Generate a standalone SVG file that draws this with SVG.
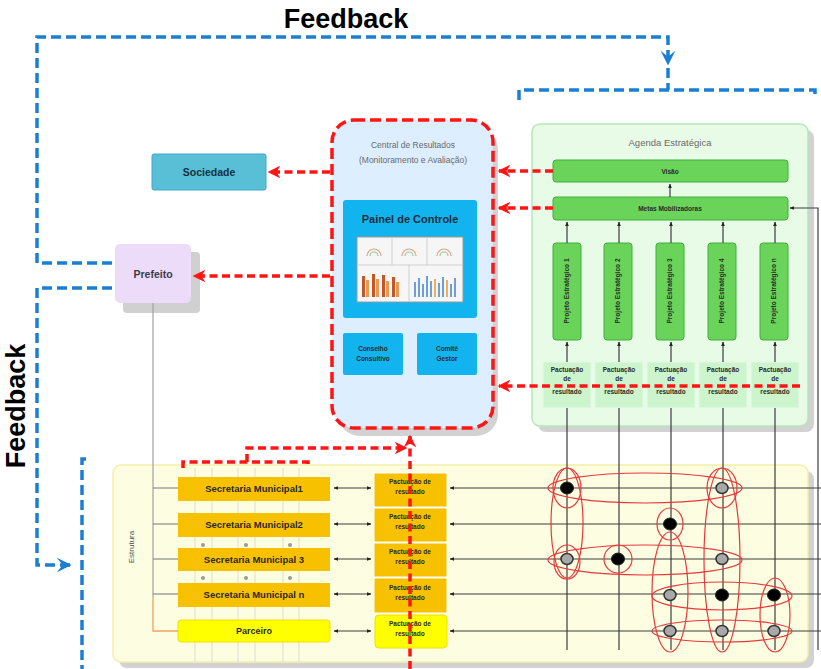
<svg xmlns="http://www.w3.org/2000/svg" width="821" height="669" viewBox="0 0 821 669">
  <style>
    text { font-family: "Liberation Sans", Arial, sans-serif; }
    .big { font-size: 27px; font-weight: bold; fill: #000; }
    .lbl { font-weight: bold; fill: #2a2a2a; text-anchor: middle; }
    .thin { fill: #6a6a6a; text-anchor: middle; font-size: 8.5px; }
    .blue { fill: none; stroke: #1a7fd3; stroke-width: 3.5; stroke-dasharray: 10 5; }
    .red { fill: none; stroke: #ff1414; stroke-width: 3.5; stroke-dasharray: 8 4.5; }
    .grid { stroke: #3c3c3c; stroke-width: 1.2; fill: none; }
    .ell { fill: none; stroke: #e8393a; stroke-width: 1.2; }
    .dot-b { fill: #000; stroke: #222; stroke-width: 1; }
    .dot-g { fill: #a8a8a8; stroke: #333; stroke-width: 1.5; }
    .sec { fill: #f8c100; }
    .pac { fill: #f8c100; stroke: #fff; stroke-width: 1; }
    .prj { fill: #6ad45a; stroke: #3fae3a; stroke-width: 1; }
    .apac { fill: #cdf5cd; stroke: #e6fbe6; stroke-width: 1; }
    .faint { stroke: #dcdcd0; stroke-width: 1; }
  </style>
  <defs>
    <marker id="redHead" viewBox="0 0 10 10" refX="9" refY="5" markerWidth="3.6" markerHeight="3.6" orient="auto">
      <path d="M0,0 L10,5 L0,10 L3,5 z" fill="#ff1414"/>
    </marker>
    <marker id="blueHead" viewBox="0 0 10 10" refX="9" refY="5" markerWidth="4.2" markerHeight="4.2" orient="auto">
      <path d="M0,0 L10,5 L0,10 L4,5 z" fill="#1a7fd3"/>
    </marker>
    <marker id="blk" viewBox="0 0 10 10" refX="9" refY="5" markerWidth="4" markerHeight="4" orient="auto">
      <path d="M0,1 L10,5 L0,9 z" fill="#222"/>
    </marker>
    <marker id="blkStart" viewBox="0 0 10 10" refX="1" refY="5" markerWidth="4" markerHeight="4" orient="auto">
      <path d="M10,1 L0,5 L10,9 z" fill="#222"/>
    </marker>
  </defs>

  <rect width="821" height="669" fill="#fff"/>

  <!-- Feedback titles -->
  <text class="big" x="346" y="28" text-anchor="middle">Feedback</text>
  <text class="big" x="25" y="406" text-anchor="middle" transform="rotate(-90 25 406)">Feedback</text>

  <!-- Structure area (background) -->
  <g id="estrutura">
    <rect x="119" y="471" width="695" height="197" rx="8" fill="#d2d2d2"/>
    <rect x="113" y="465" width="695" height="197" rx="8" fill="#fdfde2" stroke="#f4f0a8" stroke-width="1.5"/>
    <text class="thin" x="134" y="547" transform="rotate(-90 134 547)" style="font-size:8px;fill:#555">Estrutura</text>
    <!-- light columns behind the secretariats -->
    <g class="faint">
      <line x1="195" y1="468" x2="195" y2="662"/>
      <line x1="212" y1="468" x2="212" y2="662"/>
      <line x1="238" y1="468" x2="238" y2="662"/>
      <line x1="255" y1="468" x2="255" y2="662"/>
      <line x1="283" y1="468" x2="283" y2="662"/>
      <line x1="299" y1="468" x2="299" y2="662"/>
    </g>
    <g fill="#9a9a9a">
      <circle cx="203" cy="545" r="2"/><circle cx="246" cy="545" r="2"/><circle cx="290" cy="545" r="2"/>
      <circle cx="203" cy="578" r="2"/><circle cx="246" cy="578" r="2"/><circle cx="290" cy="578" r="2"/>
    </g>
  </g>

  <!-- Agenda Estratégica container -->
  <g id="agenda">
    <rect x="538" y="130" width="276" height="302" rx="8" fill="#d2d2d2"/>
    <rect x="532" y="124" width="276" height="302" rx="8" fill="#e7fbe7" stroke="#b6e8b6" stroke-width="1.5"/>
    <text class="thin" x="670" y="146" style="font-size:9.5px">Agenda Estratégica</text>
  </g>

  <!-- Central de Resultados container -->
  <g id="central">
    <rect x="338" y="128" width="160" height="308" rx="22" fill="#d2d2d2"/>
    <rect x="332" y="120" width="161" height="308" rx="22" fill="#dceeff"/>
    <rect x="332" y="120" width="161" height="308" rx="22" class="red" style="stroke-dasharray:11 5"/>
    <text class="thin" x="413" y="148">Central de Resultados</text>
    <text class="thin" x="413" y="163">(Monitoramento e Avaliação)</text>
  </g>

  <g id="painel">
    <rect x="343" y="200" width="134" height="118" rx="3" fill="#12b4ef"/>
    <text class="lbl" x="410" y="223" style="font-size:11px;fill:#1d2b3a">Painel de Controle</text>
    <!-- dashboard picture -->
    <rect x="357" y="237" width="106" height="65" fill="#f6f6f6" stroke="#9a9a9a" stroke-width="1"/>
    <g stroke="#c8c8c8" stroke-width="0.8">
      <line x1="357" y1="265" x2="463" y2="265"/>
      <line x1="392" y1="237" x2="392" y2="265"/>
      <line x1="427" y1="237" x2="427" y2="265"/>
      <line x1="409" y1="265" x2="409" y2="302"/>
    </g>
    <g fill="none" stroke-width="1.2">
      <path d="M367,256 a7,7 0 0 1 14,0" stroke="#e8a080"/>
      <path d="M402,256 a7,7 0 0 1 14,0" stroke="#e8a080"/>
      <path d="M437,256 a7,7 0 0 1 14,0" stroke="#e8a080"/>
      <path d="M370,256 a4,4 0 0 1 8,0" stroke="#9bc89b"/>
      <path d="M405,256 a4,4 0 0 1 8,0" stroke="#9bc89b"/>
      <path d="M440,256 a4,4 0 0 1 8,0" stroke="#9bc89b"/>
    </g>
    <g fill="#c8552a">
      <rect x="362" y="276" width="3" height="21"/><rect x="366" y="280" width="3" height="17" fill="#e89a50"/>
      <rect x="372" y="274" width="3" height="23"/><rect x="376" y="279" width="3" height="18" fill="#e89a50"/>
      <rect x="382" y="275" width="3" height="22"/><rect x="386" y="281" width="3" height="16" fill="#e89a50"/>
      <rect x="392" y="277" width="3" height="20"/><rect x="396" y="282" width="3" height="15" fill="#e89a50"/>
    </g>
    <g fill="#6f9fd8">
      <rect x="414" y="282" width="2" height="15"/><rect x="418" y="278" width="2" height="19"/>
      <rect x="422" y="284" width="2" height="13"/><rect x="426" y="276" width="2" height="21"/>
      <rect x="430" y="281" width="2" height="16"/><rect x="434" y="279" width="2" height="18" fill="#e8b060"/>
      <rect x="438" y="283" width="2" height="14"/><rect x="442" y="277" width="2" height="20"/>
      <rect x="446" y="280" width="2" height="17" fill="#e8b060"/><rect x="450" y="284" width="2" height="13"/>
      <rect x="454" y="278" width="2" height="19"/>
    </g>
  </g>

  <g id="conselho">
    <rect x="343" y="333" width="60" height="42" rx="2" fill="#12b4ef"/>
    <text class="lbl" x="373" y="351" style="font-size:6.5px">Conselho</text>
    <text class="lbl" x="373" y="361" style="font-size:6.5px">Consultivo</text>
  </g>
  <g id="comite">
    <rect x="417" y="333" width="60" height="42" rx="2" fill="#12b4ef"/>
    <text class="lbl" x="447" y="351" style="font-size:6.5px">Comitê</text>
    <text class="lbl" x="447" y="361" style="font-size:6.5px">Gestor</text>
  </g>

  <g id="sociedade">
    <rect x="152" y="154" width="114" height="36" rx="2" fill="#58bfd6" stroke="#3ea8c8" stroke-width="1"/>
    <text class="lbl" x="209" y="176" style="font-size:10.5px;fill:#14323f">Sociedade</text>
  </g>

  <g id="prefeito">
    <rect x="123" y="252" width="77" height="61" rx="4" fill="#d0d0d0"/>
    <rect x="115" y="244" width="76" height="59" rx="5" fill="#ecdcf9"/>
    <text class="lbl" x="153" y="278" style="font-size:10.5px;fill:#3a3a4a">Prefeito</text>
  </g>

  <g id="visao">
    <rect x="553" y="160" width="235" height="22" rx="3" fill="#6ad45a" stroke="#3fae3a"/>
    <text class="lbl" x="670" y="174" style="font-size:6.5px">Visão</text>
  </g>
  <g id="metas">
    <rect x="553" y="197" width="235" height="23" rx="3" fill="#6ad45a" stroke="#3fae3a"/>
    <text class="lbl" x="670" y="211" style="font-size:6.5px">Metas Mobilizadoras</text>
  </g>

  <g id="projetos">
    <g id="projeto-1"><rect class="prj" x="553" y="243" width="28" height="97" rx="3"/>
      <text class="lbl" x="569" y="291" transform="rotate(-90 569 291)" style="font-size:6.5px">Projeto Estratégico 1</text></g>
    <g id="projeto-2"><rect class="prj" x="604" y="243" width="28" height="97" rx="3"/>
      <text class="lbl" x="620" y="291" transform="rotate(-90 620 291)" style="font-size:6.5px">Projeto Estratégico 2</text></g>
    <g id="projeto-3"><rect class="prj" x="656" y="243" width="28" height="97" rx="3"/>
      <text class="lbl" x="672" y="291" transform="rotate(-90 672 291)" style="font-size:6.5px">Projeto Estratégico 3</text></g>
    <g id="projeto-4"><rect class="prj" x="708" y="243" width="28" height="97" rx="3"/>
      <text class="lbl" x="724" y="291" transform="rotate(-90 724 291)" style="font-size:6.5px">Projeto Estratégico 4</text></g>
    <g id="projeto-n"><rect class="prj" x="760" y="243" width="28" height="97" rx="3"/>
      <text class="lbl" x="776" y="291" transform="rotate(-90 776 291)" style="font-size:6.5px">Projeto Estratégico n</text></g>
  </g>

  <g id="pactuacao-agenda">
    <g id="pa-1"><rect class="apac" x="543" y="362" width="48" height="46"/>
      <text class="lbl" x="567" y="372" style="font-size:6.5px">Pactuação</text><text class="lbl" x="567" y="381" style="font-size:6.5px">de</text><text class="lbl" x="567" y="394" style="font-size:6.5px">resultado</text></g>
    <g id="pa-2"><rect class="apac" x="595" y="362" width="48" height="46"/>
      <text class="lbl" x="619" y="372" style="font-size:6.5px">Pactuação</text><text class="lbl" x="619" y="381" style="font-size:6.5px">de</text><text class="lbl" x="619" y="394" style="font-size:6.5px">resultado</text></g>
    <g id="pa-3"><rect class="apac" x="647" y="362" width="48" height="46"/>
      <text class="lbl" x="671" y="372" style="font-size:6.5px">Pactuação</text><text class="lbl" x="671" y="381" style="font-size:6.5px">de</text><text class="lbl" x="671" y="394" style="font-size:6.5px">resultado</text></g>
    <g id="pa-4"><rect class="apac" x="699" y="362" width="48" height="46"/>
      <text class="lbl" x="723" y="372" style="font-size:6.5px">Pactuação</text><text class="lbl" x="723" y="381" style="font-size:6.5px">de</text><text class="lbl" x="723" y="394" style="font-size:6.5px">resultado</text></g>
    <g id="pa-n"><rect class="apac" x="751" y="362" width="48" height="46"/>
      <text class="lbl" x="775" y="372" style="font-size:6.5px">Pactuação</text><text class="lbl" x="775" y="381" style="font-size:6.5px">de</text><text class="lbl" x="775" y="394" style="font-size:6.5px">resultado</text></g>
  </g>

  <g id="secretarias">
    <g id="sec-1"><rect class="sec" x="178" y="477" width="152" height="24"/>
      <text class="lbl" x="254" y="492" style="font-size:9.5px">Secretaria Municipal1</text></g>
    <g id="sec-2"><rect class="sec" x="178" y="513" width="152" height="24"/>
      <text class="lbl" x="254" y="528" style="font-size:9.5px">Secretaria Municipal2</text></g>
    <g id="sec-3"><rect class="sec" x="178" y="548" width="152" height="23"/>
      <text class="lbl" x="254" y="563" style="font-size:9.5px">Secretaria Municipal 3</text></g>
    <g id="sec-n"><rect class="sec" x="178" y="583" width="152" height="24"/>
      <text class="lbl" x="254" y="598" style="font-size:9.5px">Secretaria Municipal n</text></g>
    <g id="parceiro"><rect x="178" y="620" width="152" height="22" rx="3" fill="#ffff00" stroke="#f0e000"/>
      <text class="lbl" x="254" y="634" style="font-size:9px">Parceiro</text></g>
  </g>

  <g id="pactuacao-estrutura">
    <g id="ps-1"><rect class="pac" x="374" y="473" width="73" height="34"/>
      <text class="lbl" x="410" y="484" style="font-size:6.5px">Pactuação de</text><text class="lbl" x="410" y="494" style="font-size:6.5px">resultado</text></g>
    <g id="ps-2"><rect class="pac" x="374" y="508" width="73" height="34"/>
      <text class="lbl" x="410" y="519" style="font-size:6.5px">Pactuação de</text><text class="lbl" x="410" y="529" style="font-size:6.5px">resultado</text></g>
    <g id="ps-3"><rect class="pac" x="374" y="543" width="73" height="34"/>
      <text class="lbl" x="410" y="554" style="font-size:6.5px">Pactuação de</text><text class="lbl" x="410" y="564" style="font-size:6.5px">resultado</text></g>
    <g id="ps-n"><rect class="pac" x="374" y="578" width="73" height="35"/>
      <text class="lbl" x="410" y="590" style="font-size:6.5px">Pactuação de</text><text class="lbl" x="410" y="600" style="font-size:6.5px">resultado</text></g>
    <g id="ps-p"><rect x="375" y="615" width="72" height="33" rx="4" fill="#ffff00" stroke="#f0e000"/>
      <text class="lbl" x="410" y="626" style="font-size:6.5px">Pactuação de</text><text class="lbl" x="410" y="636" style="font-size:6.5px">resultado</text></g>
  </g>

  <g id="connectors">
    <!-- hierarchy line from the mayor -->
    <path d="M153,303 V597" stroke="#a8a8a8" stroke-width="1.3" fill="none"/>
    <path d="M153,597 V631 H178" stroke="#f0a060" stroke-width="1.3" fill="none"/>
    <g stroke="#8a8a8a" stroke-width="1.2">
      <line x1="153" y1="488" x2="178" y2="488"/>
      <line x1="153" y1="524" x2="178" y2="524"/>
      <line x1="153" y1="559" x2="178" y2="559"/>
      <line x1="153" y1="594" x2="178" y2="594"/>
    </g>

    <!-- secretariat ↔ result agreement -->
    <g class="grid" stroke-width="1">
      <line x1="334" y1="488" x2="371" y2="488" marker-start="url(#blkStart)" marker-end="url(#blk)"/>
      <line x1="334" y1="524" x2="371" y2="524" marker-start="url(#blkStart)" marker-end="url(#blk)"/>
      <line x1="334" y1="559" x2="371" y2="559" marker-start="url(#blkStart)" marker-end="url(#blk)"/>
      <line x1="334" y1="594" x2="371" y2="594" marker-start="url(#blkStart)" marker-end="url(#blk)"/>
      <line x1="334" y1="631" x2="371" y2="631" marker-start="url(#blkStart)" marker-end="url(#blk)"/>
    </g>

    <!-- matrix rows -->
    <g class="grid">
      <line x1="821" y1="488" x2="450" y2="488" marker-end="url(#blk)"/>
      <line x1="821" y1="524" x2="450" y2="524" marker-end="url(#blk)"/>
      <line x1="821" y1="559" x2="450" y2="559" marker-end="url(#blk)"/>
      <line x1="821" y1="594" x2="450" y2="594" marker-end="url(#blk)"/>
      <line x1="821" y1="631" x2="450" y2="631" marker-end="url(#blk)"/>
    </g>
    <!-- matrix columns -->
    <g class="grid">
      <line x1="567" y1="408" x2="567" y2="650"/>
      <line x1="619" y1="408" x2="619" y2="650"/>
      <line x1="671" y1="408" x2="671" y2="650"/>
      <line x1="723" y1="408" x2="723" y2="650"/>
      <line x1="775" y1="408" x2="775" y2="650"/>
    </g>

    <!-- inside the strategic agenda -->
    <g class="grid" stroke-width="1">
      <line x1="567" y1="362" x2="567" y2="342" marker-end="url(#blk)"/>
      <line x1="619" y1="362" x2="619" y2="342" marker-end="url(#blk)"/>
      <line x1="671" y1="362" x2="671" y2="342" marker-end="url(#blk)"/>
      <line x1="723" y1="362" x2="723" y2="342" marker-end="url(#blk)"/>
      <line x1="775" y1="362" x2="775" y2="342" marker-end="url(#blk)"/>
      <line x1="567" y1="243" x2="567" y2="222" marker-end="url(#blk)"/>
      <line x1="619" y1="243" x2="619" y2="222" marker-end="url(#blk)"/>
      <line x1="671" y1="243" x2="671" y2="222" marker-end="url(#blk)"/>
      <line x1="723" y1="243" x2="723" y2="222" marker-end="url(#blk)"/>
      <line x1="775" y1="243" x2="775" y2="222" marker-end="url(#blk)"/>
      <line x1="670" y1="197" x2="670" y2="184" marker-end="url(#blk)"/>
      <path d="M818,650 V208 H790" marker-end="url(#blk)"/>
    </g>

    <!-- groupings in the matrix -->
    <g class="ell">
      <ellipse cx="645" cy="488" rx="97" ry="15"/>
      <ellipse cx="645" cy="560" rx="97" ry="15"/>
      <ellipse cx="567" cy="523" rx="16" ry="55"/>
      <ellipse cx="567" cy="488" rx="14" ry="20"/>
      <ellipse cx="567" cy="562" rx="13" ry="17"/>
      <ellipse cx="722" cy="560" rx="18" ry="92"/>
      <ellipse cx="722" cy="488" rx="15" ry="20"/>
      <ellipse cx="670" cy="524" rx="13" ry="16"/>
      <ellipse cx="618" cy="559" rx="14" ry="14"/>
      <ellipse cx="670" cy="592" rx="18" ry="60"/>
      <ellipse cx="722" cy="596" rx="70" ry="14"/>
      <ellipse cx="722" cy="631" rx="70" ry="11"/>
      <ellipse cx="775" cy="615" rx="15" ry="37"/>
    </g>
    <g>
      <ellipse class="dot-b" cx="567" cy="488" rx="6.5" ry="6"/>
      <ellipse class="dot-g" cx="722" cy="488" rx="6" ry="5.5"/>
      <ellipse class="dot-b" cx="670" cy="524" rx="6.5" ry="6"/>
      <ellipse class="dot-g" cx="567" cy="559" rx="6" ry="5.5"/>
      <ellipse class="dot-b" cx="618" cy="559" rx="6.5" ry="6"/>
      <ellipse class="dot-g" cx="722" cy="559" rx="6" ry="5.5"/>
      <ellipse class="dot-g" cx="670" cy="595" rx="6" ry="5.5"/>
      <ellipse class="dot-b" cx="722" cy="595" rx="6.5" ry="6"/>
      <ellipse class="dot-b" cx="774" cy="595" rx="6.5" ry="6"/>
      <ellipse class="dot-g" cx="670" cy="631" rx="6" ry="5.5"/>
      <ellipse class="dot-g" cx="722" cy="631" rx="6" ry="5.5"/>
      <ellipse class="dot-g" cx="774" cy="631" rx="6" ry="5.5"/>
    </g>

    <!-- monitoring flows (red) -->
    <path class="red" d="M553,171 H499" marker-end="url(#redHead)"/>
    <path class="red" d="M553,208 H499" marker-end="url(#redHead)"/>
    <path class="red" d="M800,386 H499" marker-end="url(#redHead)"/>
    <path class="red" d="M330,172 H269" marker-end="url(#redHead)"/>
    <path class="red" d="M330,276 H194" marker-end="url(#redHead)"/>
    <path class="red" d="M410,669 V436" marker-end="url(#redHead)"/>
    <path class="red" d="M183,468 V462 H308 V468"/>
    <path class="red" d="M247,462 V448 H406" marker-end="url(#redHead)"/>

    <!-- feedback loops (blue) -->
    <path class="blue" d="M112,263 H37 V37 H668 V64" marker-end="url(#blueHead)"/>
    <path class="blue" d="M668,68 V90"/>
    <path class="blue" d="M519,100 V90 H815 V97"/>
    <path class="blue" d="M112,288 H37 V565 H70" marker-end="url(#blueHead)"/>
    <path class="blue" d="M86,459 H82 V669"/>
  </g>
</svg>
